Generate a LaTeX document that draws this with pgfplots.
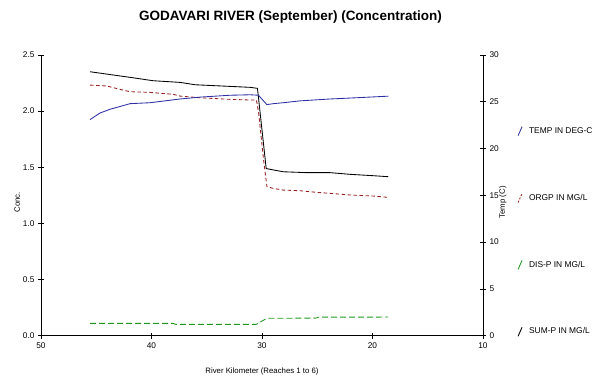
\documentclass[border=0pt]{standalone}
\usepackage{pgfplots}
\pgfplotsset{compat=1.18}
\usepackage{fontspec}
\setmainfont{Liberation Sans}
\definecolor{tempc}{RGB}{45,45,165}
\definecolor{orgpc}{RGB}{150,30,30}
\definecolor{dispc}{RGB}{30,150,30}
\pgfplotsset{
  common/.style={
    at={(41pt,42.3pt)}, anchor=south west,
    scale only axis, width=442pt, height=280.7pt,
    xmin=10, xmax=50, x dir=reverse,
    tick align=center, major tick length=6pt,
    tick style={black, line width=0.6pt},
    axis line style={black, line width=0.8pt},
    tick label style={font=\fontsize{8.3}{10}\selectfont},
    /pgf/number format/assume math mode=true,
    label style={font=\fontsize{7.8}{9}\selectfont},
  }
}
\begin{document}
\begin{tikzpicture}
\useasboundingbox (0pt,0pt) rectangle (603pt,378pt);
\node[font=\bfseries\fontsize{13.5}{16}\selectfont] at (290.5pt,361pt) {GODAVARI RIVER (September) (Concentration)};
\begin{axis}[common,
  ymin=0, ymax=2.5,
  axis x line*=bottom, axis y line*=left,
  xtick={10,20,30,40,50}, ytick={0,0.5,1,1.5,2,2.5},
  yticklabel style={/pgf/number format/.cd, fixed, fixed zerofill, precision=1},
  xlabel={River Kilometer (Reaches 1 to 6)},
  ylabel={Conc.},
  xlabel style={at={(axis description cs:0.5,-0.126)}, anchor=center},
  ylabel style={at={(axis description cs:-0.054,0.475)}, anchor=center, rotate=0},
]
\addplot[orgpc, line width=0.85pt, dash pattern=on 3.5pt off 2.5pt] coordinates {
(45.56,2.232) (44.05,2.224) (42.84,2.194) (41.94,2.173) (40.13,2.167) (38.04,2.150) (37.41,2.134)
(35.60,2.119) (32.88,2.105) (31.07,2.099) (30.50,2.099) (30.30,1.98) (29.85,1.56) (29.55,1.327)
(28.96,1.312) (28.08,1.297) (26.54,1.291) (25.09,1.277) (23.82,1.268) (22.00,1.253) (19.93,1.244) (18.57,1.232)};
\addplot[dispc, line width=0.85pt, dash pattern=on 6pt off 3pt] coordinates {
(45.56,0.110) (38.04,0.110) (37.80,0.101) (30.53,0.101) (29.56,0.155) (25.10,0.157) (24.90,0.165) (18.57,0.166)};
\addplot[black, line width=0.85pt] coordinates {
(45.56,2.351) (44.05,2.330) (41.94,2.301) (39.86,2.271) (37.41,2.256) (36.05,2.235) (31.07,2.212) (30.41,2.203)
(29.62,1.489) (28.96,1.476) (28.08,1.460) (25.90,1.452) (23.82,1.452) (22.00,1.437) (19.93,1.425) (18.57,1.416)};
\end{axis}
\begin{axis}[common,
  ymin=0, ymax=30,
  axis x line=none, axis y line*=right,
  ytick={0,5,10,15,20,25,30},
  ylabel={Temp (C)},
  ylabel style={at={(axis description cs:1.045,0.475)}, anchor=center},
  legend style={at={(axis description cs:1.078,0.747)}, anchor=north west, draw=none, fill=none,
    font=\fontsize{8.4}{9}\selectfont, row sep=57pt, inner sep=0pt,
    nodes={inner sep=1pt}},
  legend cell align=left,
  legend image code/.code={\draw[#1] (0pt,-4.5pt) -- (4pt,4.5pt); \path[draw=none] (0pt,0pt) -- (10pt,0pt);},
]
\addplot[tempc, line width=0.85pt] coordinates {
(45.56,23.1) (44.66,23.8) (43.75,24.2) (42.84,24.5) (41.94,24.8) (40.13,24.9) (38.77,25.1) (37.41,25.3)
(35.60,25.5) (32.88,25.7) (31.07,25.75) (30.32,25.7) (29.56,24.7) (28.96,24.8) (28.08,24.9) (26.54,25.1)
(23.82,25.3) (22.00,25.4) (18.57,25.6)};
\addlegendentry{TEMP IN DEG-C}
\addlegendimage{orgpc, line width=0.85pt, dash pattern=on 2pt off 1.5pt}
\addlegendentry{ORGP IN MG/L}
\addlegendimage{dispc, line width=0.85pt}
\addlegendentry{DIS-P IN MG/L}
\addlegendimage{black, line width=0.85pt}
\addlegendentry{SUM-P IN MG/L}
\end{axis}
\end{tikzpicture}
\end{document}
